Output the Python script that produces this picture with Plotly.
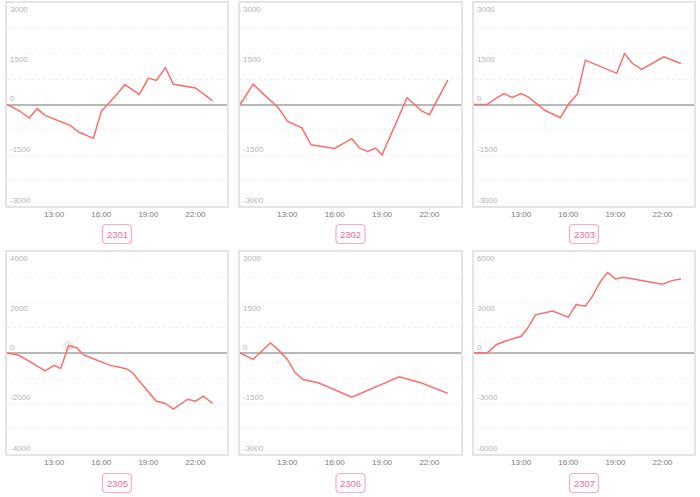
import plotly.graph_objects as go

DAY = "2023-01-01 "

names = ["2301", "2302", "2303", "2305", "2306", "2307"]

t_2301 = ["10:00", "10:50", "11:25", "11:55", "12:25", "14:00", "14:35", "15:30", "16:00",
          "17:00", "17:30", "18:25", "19:00", "19:30", "20:05", "20:35", "22:00", "23:05"]
v_2301 = [0, -200, -400, -120, -320, -610, -820, -1000, -200,
          300, 590, 300, 780, 710, 1090, 600, 490, 110]

t_2302 = ["10:00", "10:50", "11:30", "12:25", "13:00", "13:55", "14:30", "16:00", "17:05",
          "17:35", "18:05", "18:35", "19:00", "20:35", "21:30", "22:00", "23:10"]
v_2302 = [0, 600, 300, -90, -490, -690, -1190, -1300, -1010,
          -1290, -1390, -1290, -1490, 200, -190, -300, 720]

t_2303 = ["10:00", "10:50", "11:25", "11:55", "12:25", "13:00", "13:30", "14:30", "15:30",
          "16:00", "16:35", "17:05", "19:05", "19:35", "20:05", "20:40", "22:05", "23:10"]
v_2303 = [0, 0, 190, 320, 210, 320, 210, -170, -390,
          0, 310, 1310, 920, 1510, 1210, 1040, 1410, 1210]

t_2305 = ["10:00", "10:45", "11:40", "12:25", "13:00", "13:25", "13:55", "14:25", "14:55",
          "16:35", "17:35", "18:00", "19:30", "20:05", "20:35", "21:30", "22:00", "22:30", "23:05"]
v_2305 = [0, -90, -420, -710, -490, -610, 290, 210, -90,
          -490, -620, -790, -1910, -2000, -2220, -1830, -1910, -1710, -2000]

t_2306 = ["10:00", "10:50", "11:55", "12:25", "13:00", "13:30", "14:00", "15:00", "17:05",
          "20:05", "21:30", "23:10"]
v_2306 = [0, -190, 300, 100, -190, -590, -790, -890, -1310, -710, -890, -1200]

t_2307 = ["10:00", "10:50", "11:25", "12:00", "13:00", "13:25", "13:55", "15:00", "16:00",
          "16:30", "17:05", "17:30", "18:05", "18:30", "19:00", "19:30", "22:00", "22:35", "23:10"]
v_2307 = [0, 0, 490, 710, 990, 1480, 2270, 2490, 2130,
          2880, 2780, 3320, 4300, 4780, 4400, 4500, 4090, 4300, 4400]

y_limits = [3000, 3000, 3000, 4000, 3000, 6000]
x_ticks = ["13:00", "16:00", "19:00", "22:00"]
x_start, x_end = "10:00", "24:00"

times = [t_2301, t_2302, t_2303, t_2305, t_2306, t_2307]
values = [v_2301, v_2302, v_2303, v_2305, v_2306, v_2307]
hover_panel, hover_index = 3, 6

W, H = 700, 497
col_px = [(7, 227), (240, 461), (474, 694)]
row_px = [(3, 206), (252, 454)]
label_cy = [234, 483]

LINE = "#ff6b6b"
PINK_TXT = "#f06c98"
PINK_BORDER = "#f8a9c3"
FONT = "Liberation Sans, Arial, sans-serif"


def dt(t):
    if t == "24:00":
        return "2023-01-02 00:00"
    return DAY + t


fig = go.Figure()
layout = dict(width=W, height=H, margin=dict(l=0, r=0, t=0, b=0),
              paper_bgcolor="white", plot_bgcolor="white", showlegend=False,
              font=dict(family=FONT), annotations=[], shapes=[])

for i in range(6):
    r, c = divmod(i, 3)
    ax = "" if i == 0 else str(i + 1)
    x0, x1 = col_px[c]
    y0, y1 = row_px[r]
    lim = y_limits[i]
    xs = [dt(t) for t in times[i]]

    if i == hover_panel:
        fig.add_trace(go.Scatter(x=[xs[hover_index]], y=[values[i][hover_index]], mode="markers",
                                 marker=dict(size=11, color="rgba(200,200,200,0.35)"),
                                 xaxis="x" + ax, yaxis="y" + ax, hoverinfo="skip"))
    fig.add_trace(go.Scatter(x=xs, y=values[i], mode="lines",
                             line=dict(color=LINE, width=1.5),
                             xaxis="x" + ax, yaxis="y" + ax))

    layout["xaxis" + ax] = dict(
        domain=[x0 / W, x1 / W], anchor="y" + ax, type="date",
        range=[dt(x_start), dt(x_end)],
        tickvals=[dt(t) for t in x_ticks], ticktext=x_ticks,
        showgrid=False, zeroline=False, ticks="",
        showline=True, mirror=True, linecolor="#e4e4e4", linewidth=1.5,
        tickfont=dict(size=8, color="#7a7a7a", family=FONT), fixedrange=True)
    layout["yaxis" + ax] = dict(
        domain=[1 - y1 / H, 1 - y0 / H], anchor="x" + ax,
        range=[-lim, lim], dtick=lim / 4, showticklabels=False,
        showgrid=True, gridcolor="#f1f1f1", griddash="dot", gridwidth=1,
        zeroline=True, zerolinecolor="#b8b8b8", zerolinewidth=1.5,
        showline=True, mirror=True, linecolor="#e4e4e4", linewidth=1.5, fixedrange=True)

    for v in [lim, lim / 2, 0, -lim / 2, -lim]:
        layout["annotations"].append(dict(
            x=0, xref="x" + ax + " domain", y=v, yref="y" + ax,
            text=str(int(v)), showarrow=False, xanchor="left", xshift=1,
            yanchor="middle", yshift=(-6 if v > 0 else 6),
            font=dict(size=8, color="#b5b5b5", family=FONT)))

    # label box (rounded rectangle)
    cx = (x0 + x1) / 2
    cy = label_cy[r]
    bw, bh, rad = 29, 19, 4
    L, R, T, B = cx - bw / 2, cx + bw / 2, cy - bh / 2, cy + bh / 2
    px = lambda x: x / W
    py = lambda y: 1 - y / H
    path = (f"M {px(L+rad)} {py(T)} L {px(R-rad)} {py(T)} Q {px(R)} {py(T)} {px(R)} {py(T+rad)} "
            f"L {px(R)} {py(B-rad)} Q {px(R)} {py(B)} {px(R-rad)} {py(B)} "
            f"L {px(L+rad)} {py(B)} Q {px(L)} {py(B)} {px(L)} {py(B-rad)} "
            f"L {px(L)} {py(T+rad)} Q {px(L)} {py(T)} {px(L+rad)} {py(T)} Z")
    layout["shapes"].append(dict(type="path", path=path, xref="paper", yref="paper",
                                 line=dict(color=PINK_BORDER, width=1.2), fillcolor="white"))
    layout["annotations"].append(dict(
        x=px(cx), y=py(cy), xref="paper", yref="paper", text=names[i], showarrow=False,
        xanchor="center", yanchor="middle", font=dict(size=9.5, color=PINK_TXT, family=FONT)))

fig.update_layout(**layout)
fig.write_html("out.html", config={"displayModeBar": False},
               post_script="document.body.style.margin='0';document.body.style.overflow='hidden';")
